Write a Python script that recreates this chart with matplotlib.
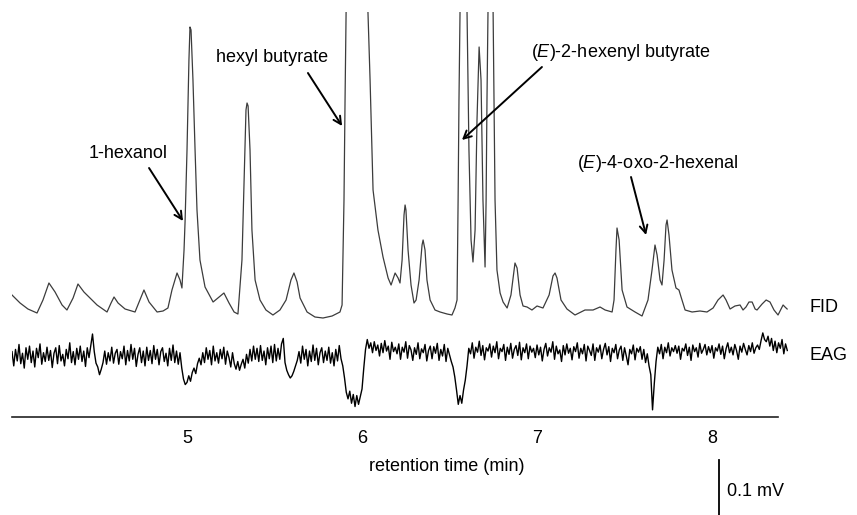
import numpy as np
import matplotlib
matplotlib.use("Agg")
import matplotlib.pyplot as plt
from matplotlib import font_manager

# -----------------------------
# data
# -----------------------------
# FID trace: retention time (min) and detector signal (arbitrary units above baseline)
FID_T = [4.00, 4.046, 4.091, 4.143, 4.177, 4.211, 4.246, 4.286, 4.314, 4.349,
         4.377, 4.411, 4.446, 4.486, 4.543, 4.566, 4.583, 4.606, 4.646, 4.703,
         4.731, 4.754, 4.783, 4.829, 4.863, 4.891, 4.914, 4.943, 4.960, 4.971,
         4.983, 4.989, 5.000, 5.011, 5.017, 5.023, 5.034, 5.046, 5.057, 5.074,
         5.103, 5.149, 5.177, 5.211, 5.240, 5.269, 5.291, 5.314, 5.326, 5.337,
         5.343, 5.349, 5.360, 5.371, 5.389, 5.417, 5.451, 5.491, 5.531, 5.566,
         5.594, 5.611, 5.629, 5.646, 5.686, 5.731, 5.777, 5.829, 5.874, 5.886,
         5.897, 5.903, 5.909, 5.960, 6.034, 6.046, 6.063, 6.091, 6.120, 6.149,
         6.166, 6.189, 6.206, 6.217, 6.229, 6.240, 6.246, 6.251, 6.263, 6.280,
         6.297, 6.309, 6.326, 6.343, 6.349, 6.360, 6.371, 6.389, 6.417, 6.446,
         6.486, 6.514, 6.531, 6.543, 6.549, 6.554, 6.560, 6.580, 6.600, 6.611,
         6.623, 6.634, 6.646, 6.657, 6.669, 6.680, 6.691, 6.703, 6.709, 6.714,
         6.720, 6.734, 6.749, 6.760, 6.771, 6.789, 6.806, 6.829, 6.851, 6.869,
         6.874, 6.886, 6.903, 6.920, 6.943, 6.971, 7.000, 7.034, 7.069, 7.091,
         7.103, 7.114, 7.137, 7.171, 7.217, 7.274, 7.320, 7.360, 7.389, 7.429,
         7.440, 7.451, 7.457, 7.469, 7.486, 7.514, 7.560, 7.600, 7.634, 7.657,
         7.674, 7.686, 7.703, 7.714, 7.726, 7.737, 7.743, 7.754, 7.771, 7.794,
         7.811, 7.823, 7.846, 7.886, 7.931, 7.971, 8.006, 8.034, 8.063, 8.080,
         8.103, 8.131, 8.160, 8.177, 8.194, 8.211, 8.229, 8.246, 8.257, 8.286,
         8.309, 8.331, 8.354, 8.377, 8.394, 8.406, 8.417, 8.429]
FID_V = [18, 10, 4, 0, 13, 30, 21, 8, 3, 15,
         29, 21, 15, 8, 1, 10, 16, 10, 4, 1,
         13, 23, 11, 1, 2, 5, 23, 40, 33, 25,
         63, 92, 163, 253, 286, 283, 233, 163, 103, 53,
         26, 11, 15, 20, 10, 1, -1, 53, 133, 203,
         210, 207, 163, 83, 33, 13, 3, -2, 3, 13,
         33, 40, 31, 15, 1, -4, -5, -3, 1, 8,
         113, 213, 301, 700, 301, 233, 123, 83, 56, 35,
         28, 40, 35, 30, 53, 98, 108, 103, 63, 28,
         10, 13, 33, 68, 73, 63, 33, 13, 3, 1,
         -1, -2, 5, 13, 113, 213, 301, 600, 301, 163,
         73, 51, 83, 193, 266, 233, 113, 46, 113, 213,
         301, 600, 301, 113, 43, 20, 11, 5, 18, 43,
         50, 45, 18, 7, 6, 3, 7, 5, 18, 37,
         40, 35, 13, 4, -2, 3, 3, 6, 3, 1,
         13, 63, 85, 73, 23, 6, 1, -3, 13, 43,
         68, 58, 33, 28, 53, 88, 93, 78, 43, 25,
         23, 16, 3, 1, 2, 1, 5, 13, 18, 13,
         4, 7, 8, 3, 6, 11, 11, 4, 3, 9,
         13, 11, 3, -2, 4, 8, 6, 4]

# EAG trace: antenna response in microvolts, sampled every 0.01 min from 4.00 min
EAG_START = 4.00
EAG_STEP = 0.01
EAG_UV = [8, -18, 12, -9, 21, -14, 5, -22, 15, -6, 18, -12, 9, -20, 14, -3, 22, -15, 6, -10,
          16, -8, 10, -21, 5, 15, -14, 19, -9, 3, -18, 12, -5, 24, -12, 8, -16, 14, -6, 18,
          -10, 9, -19, 15, -3, 18, 40, 8, -13, -20, -34, -24, -12, 9, -15, 6, -9, 16, -13, 5,
          12, -15, 8, -5, 18, -16, 10, -9, 21, -6, 14, -19, 3, 15, -12, 9, -18, 16, -8, 10,
          -14, 19, -6, 12, -16, 8, 15, -10, 5, -18, 14, -8, 20, -12, 9, -15, 6, -22, -42, -52,
          -48, -36, -46, -30, -22, -32, -14, -4, -16, 6, -12, 15, -6, 10, -16, 18, -9, 6, -13, 12,
          -5, 16, -15, 9, -3, -20, 6, -14, -24, -10, -26, -15, -6, -22, 3, -13, 12, -9, 18, -6,
          14, -10, 19, -8, 9, -16, 15, -5, 18, -12, 21, -9, 14, -6, 22, 32, -12, -26, -34, -40,
          -36, -28, -18, -8, 8, -13, 18, -6, 12, -18, 9, -10, 20, -8, 14, -16, 6, 15, -12, 9,
          -8, 16, -13, 6, -18, 12, -9, 19, -5, -18, -40, -66, -78, -64, -86, -70, -92, -72, -88, -74,
          -60, -22, 12, 30, 14, 24, 6, 26, 10, 20, 0, 23, 6, 28, 9, 18, -6, 25, 8, 16,
          4, 22, -6, 16, 7, 26, -4, 19, 11, -8, 15, 3, 24, -5, 13, 6, 21, -9, 10, 18,
          -5, 17, 5, 23, -8, 12, 0, 21, -10, 14, 2, -10, -20, -38, -62, -88, -72, -86, -62, -44,
          -18, 14, 4, 24, -4, 16, 7, 27, 1, 19, -7, 15, 9, 22, -2, 18, 6, 26, -5, 14,
          8, 21, -8, 16, 3, 23, -4, 12, 19, 1, 25, -7, 15, 6, 22, -5, 18, 7, 14, -3,
          20, 2, 16, -9, 12, 23, 0, 15, 7, 26, -6, 18, 4, 11, -10, 19, 2, 22, 5, 14,
          -7, 17, 8, 24, -4, 14, 4, 21, -9, 18, 10, 1, 22, -8, 15, 7, 20, -5, 12, 23,
          2, 17, -10, 14, 6, 21, -5, 11, 18, -8, 15, 0, -16, 12, 4, 20, -7, 14, 7, 17,
          -6, 12, -12, 4, -18, -34, -98, -50, -10, 16, 4, 21, -5, 16, 6, 24, 0, 15, 8, 19,
          5, 18, -6, 14, 9, 22, 1, 16, -8, 20, 8, 15, -2, 23, 5, 12, 21, 2, 17, 6,
          19, -4, 15, 9, 22, 3, 18, -5, 13, 24, 6, 16, 2, 21, 10, -6, 18, 7, 23, 12,
          2, 19, 8, 24, 5, 15, 20, 12, 28, 42, 30, 26, 36, 18, 32, 10, 27, 6, 24, 14,
          30, 4, 22, 10]

TICKS = [5, 6, 7, 8]

# compound labels: (text, label position, arrow tail, arrow head) in (min, plot units)
LABELS = [
    ("1-hexanol", (4.663, 264), (4.783, 249), (4.977, 196)),
    ("hexyl butyrate", (5.486, 360), (5.691, 344), (5.886, 291)),
    ("($\\mathit{E}$)-2-hexenyl butyrate", (7.480, 365), (7.028, 350), (6.571, 277)),
    ("($\\mathit{E}$)-4-oxo-2-hexenal", (7.689, 254), (7.537, 240), (7.623, 182)),
]

# vertical layout of the two traces (plot units)
FID_BASE = 104
EAG_BASE = 61
UV_PER_UNIT = 1.82

# -----------------------------
# fonts
# -----------------------------
names = {f.name for f in font_manager.fontManager.ttflist}
base_font = "Liberation Sans Narrow" if "Liberation Sans Narrow" in names else "Liberation Sans"
plt.rcParams["font.family"] = [base_font, "DejaVu Sans"]
plt.rcParams["mathtext.fontset"] = "custom"
plt.rcParams["mathtext.rm"] = base_font
plt.rcParams["mathtext.it"] = base_font + ":italic"
FS = 15 if base_font.endswith("Narrow") else 13

# -----------------------------
# plot
# -----------------------------
fig = plt.figure(figsize=(8.57, 5.15), dpi=100)
ax = fig.add_axes([12 / 857, 98 / 515, 776 / 857, 405 / 515])

fid_y = FID_BASE + np.array(FID_V, dtype=float)
ax.plot(FID_T, fid_y, color="#3c3c3c", lw=0.9)

eag = np.array(EAG_UV, dtype=float)
eag_t = EAG_START + EAG_STEP * np.arange(len(eag))
ax.plot(eag_t, EAG_BASE + eag / UV_PER_UNIT, color="black", lw=1.0)

ax.set_xlim(4.0, 8.434)
ax.set_ylim(0, 405)

for s in ["top", "right", "left"]:
    ax.spines[s].set_visible(False)
ax.spines["bottom"].set_bounds(4.0, 8.377)
ax.spines["bottom"].set_linewidth(1.2)
ax.spines["bottom"].set_color("#222222")
ax.set_yticks([])
ax.set_xticks(TICKS)
ax.set_xticklabels([str(t) for t in TICKS])
ax.tick_params(axis="x", length=0, pad=9.5, labelsize=FS)

ax.set_xlabel("retention time (min)", fontsize=FS)
ax.xaxis.set_label_coords((447 - 12) / 776, -0.102)

# compound labels with arrows
for text, pos, tail, head in LABELS:
    ax.text(pos[0], pos[1], text, fontsize=FS, ha="center", va="center")
    ax.annotate("", xy=head, xytext=tail,
                arrowprops=dict(arrowstyle="->,head_length=0.55,head_width=0.28",
                                lw=1.4, color="black", shrinkA=0, shrinkB=0))

# trace names
ax.text(8.554, FID_BASE + 6, "FID", fontsize=FS, va="center", ha="left", clip_on=False)
ax.text(8.554, EAG_BASE + 1, "EAG", fontsize=FS, va="center", ha="left", clip_on=False)

# 0.1 mV scale bar
bar_x = 8.040
bar_top = -43
ax.plot([bar_x, bar_x], [bar_top, bar_top - 100 / UV_PER_UNIT], color="black",
        lw=1.3, clip_on=False)
ax.text(bar_x + 0.046, -74, "0.1 mV", fontsize=FS, va="center", ha="left", clip_on=False)

fig.savefig("out.png", dpi=100)
